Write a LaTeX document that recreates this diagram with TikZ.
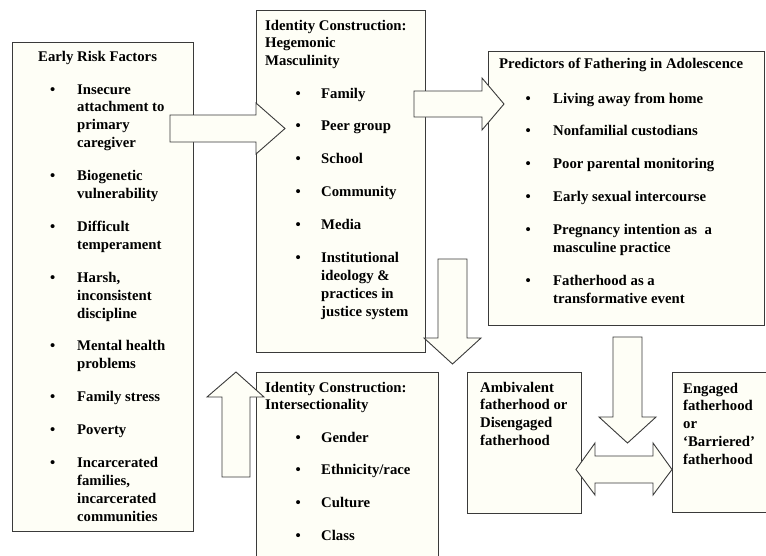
\documentclass[tikz,border=0pt]{standalone}
\usepackage{fontspec}
\setmainfont{Liberation Serif}
\usepackage{xcolor}
\usepackage{tikz}
\usepackage{array}
\definecolor{box_fill}{HTML}{FEFEF6}
\definecolor{box_line}{HTML}{3A3A3A}

\tikzset{
    frame/.style={draw=box_line, fill=box_fill, line width=0.9pt, rectangle, anchor=north west, inner sep=0pt},
    blockarrow/.style={draw=box_line, fill=box_fill, line width=0.9pt, line join=miter},
    listing/.style={anchor=base west, inner sep=0pt, font=\bfseries\fontsize{14.75}{17.9}\selectfont},
}

\begin{document}
\begin{tikzpicture}[x=1pt, y=-1pt]
                \useasboundingbox (0,0) rectangle (766,555);
                \fill[white] (0,0) rectangle (766,555);
                \clip (0,0) rectangle (766,555);
                % boxes
                \node[frame, minimum width=181pt, minimum height=489pt] (risk) at (12,42) {};
                \node[frame, minimum width=169pt, minimum height=342pt] (hegemonic) at (256,10) {};
                \node[frame, minimum width=276pt, minimum height=274pt] (predictors) at (488,51) {};
                \node[frame, minimum width=182pt, minimum height=200pt] (intersect) at (256,372) {};
                \node[frame, minimum width=114pt, minimum height=141pt] (ambivalent) at (467,372) {};
                \node[frame, minimum width=120pt, minimum height=140pt] (engaged) at (672,372) {};
                % block arrows
                \filldraw[blockarrow] (170,115) -- (256,115) -- (256,103) -- (285,128.5) -- (256,154) -- (256,142) -- (170,142) -- cycle;
                \filldraw[blockarrow] (414,91) -- (482,91) -- (482,78) -- (504,104) -- (482,130) -- (482,117) -- (414,117) -- cycle;
                \filldraw[blockarrow] (438,259) -- (467,259) -- (467,338) -- (481,338) -- (452.5,364) -- (424,338) -- (438,338) -- cycle;
                \filldraw[blockarrow] (222,477) -- (222,397) -- (207,397) -- (236,372) -- (264,397) -- (250,397) -- (250,477) -- cycle;
                \filldraw[blockarrow] (613,337) -- (642,337) -- (642,417) -- (656,417) -- (627.5,443) -- (599,417) -- (613,417) -- cycle;
                \filldraw[blockarrow] (576,469.5) -- (595,443) -- (595,456) -- (653,456) -- (653,443) -- (672,469.5) -- (653,495) -- (653,483) -- (595,483) -- (595,495) -- cycle;
                % texts
                \node[listing] (riskTitle) at (38,61) {Early Risk Factors};
                \node[listing] (riskList) at (50,94) {\begin{tabular}[t]{@{}p{27pt}@{}l@{}}
                    \textbullet & Insecure\\ & attachment to\\ & primary\\ & caregiver\\[15pt]
                    \textbullet & Biogenetic\\ & vulnerability\\[15pt]
                    \textbullet & Difficult\\ & temperament\\[15pt]
                    \textbullet & Harsh,\\ & inconsistent\\ & discipline\\[15pt]
                    \textbullet & Mental health\\ & problems\\[15pt]
                    \textbullet & Family stress\\[15pt]
                    \textbullet & Poverty\\[15pt]
                    \textbullet & Incarcerated\\ & families,\\ & incarcerated\\ & communities
                \end{tabular}};
                \node[listing] (hegemonicTitle) at (265,30) {\begin{tabular}[t]{@{}l@{}}
                    Identity Construction:\\ Hegemonic\\ Masculinity
                \end{tabular}};
                \node[listing] (hegemonicList) at (295.5,98) {\begin{tabular}[t]{@{}p{25.5pt}@{}l@{}}
                    \textbullet & Family\\[15pt]
                    \textbullet & Peer group\\[15pt]
                    \textbullet & School\\[15pt]
                    \textbullet & Community\\[15pt]
                    \textbullet & Media\\[15pt]
                    \textbullet & Institutional\\ & ideology \&\\ & practices in\\ & justice system
                \end{tabular}};
                \node[listing] (predictorsTitle) at (499,68) {Predictors of Fathering in Adolescence};
                \node[listing] (predictorsList) at (525.5,103) {\begin{tabular}[t]{@{}p{27.5pt}@{}l@{}}
                    \textbullet & Living away from home\\[15pt]
                    \textbullet & Nonfamilial custodians\\[15pt]
                    \textbullet & Poor parental monitoring\\[15pt]
                    \textbullet & Early sexual intercourse\\[15pt]
                    \textbullet & Pregnancy intention as\ \ a\\ & masculine practice\\[15pt]
                    \textbullet & Fatherhood as a\\ & transformative event
                \end{tabular}};
                \node[listing] (intersectTitle) at (265,392) {\begin{tabular}[t]{@{}l@{}}
                    Identity Construction:\\ Intersectionality
                \end{tabular}};
                \node[listing] (intersectList) at (295.5,442) {\begin{tabular}[t]{@{}p{25.5pt}@{}l@{}}
                    \textbullet & Gender\\[15pt]
                    \textbullet & Ethnicity/race\\[15pt]
                    \textbullet & Culture\\[15pt]
                    \textbullet & Class
                \end{tabular}};
                \node[listing] (ambivalentText) at (480,392) {\begin{tabular}[t]{@{}l@{}}
                    Ambivalent\\ fatherhood or\\ Disengaged\\ fatherhood
                \end{tabular}};
                \node[listing] (engagedText) at (683,393) {\begin{tabular}[t]{@{}l@{}}
                    Engaged\\ fatherhood\\ or\\ `Barriered'\\ fatherhood
                \end{tabular}};
            \end{tikzpicture}
\end{document}
